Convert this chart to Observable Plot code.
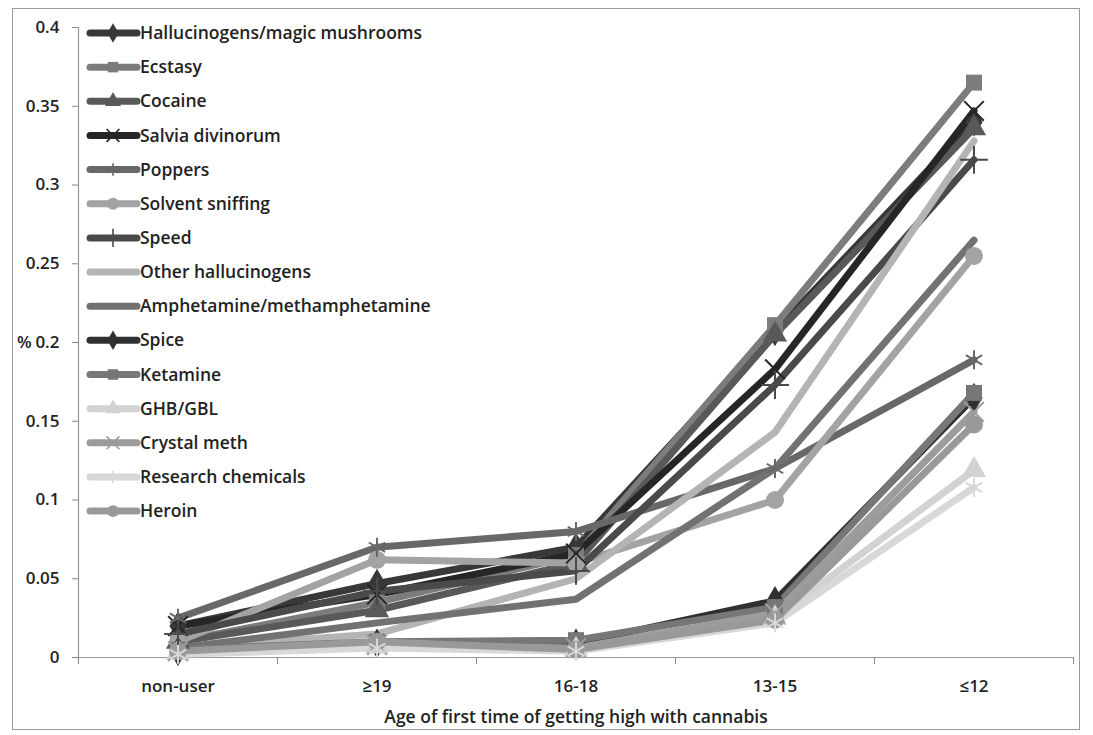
<!DOCTYPE html>
<html><head><meta charset="utf-8">
<script src="https://cdn.jsdelivr.net/npm/d3@7"></script>
<script src="https://cdn.jsdelivr.net/npm/@observablehq/plot@0.6"></script>
<style>
body{margin:0;background:#fff;font-family:"Open Sans",sans-serif}
#wrap{position:relative;width:1093px;height:735px;overflow:hidden}
#frame{position:absolute;left:12px;top:8px;width:1068px;height:722px;border:1px solid #9a9a9a;box-sizing:border-box;pointer-events:none}
#pct{position:absolute;left:17px;top:330px;font-size:17px;color:#222;font-weight:600}
#legend{position:absolute;left:0;top:0}
</style>
</head><body>
<div id="wrap"><div id="frame"></div><div id="pct">%</div></div>
<script>
const ages = ["non-user", "≥19", "16-18", "13-15", "≤12"];
const yTicks = [0, 0.05, 0.1, 0.15, 0.2, 0.25, 0.3, 0.35, 0.4];

const seriesNames = ["Hallucinogens/magic mushrooms", "Ecstasy", "Cocaine", "Salvia divinorum", "Poppers",
  "Solvent sniffing", "Speed", "Other hallucinogens", "Amphetamine/methamphetamine", "Spice",
  "Ketamine", "GHB/GBL", "Crystal meth", "Research chemicals", "Heroin"];
const seriesColors = ["#383838", "#7c7c7c", "#595959", "#262626", "#686868",
  "#a3a3a3", "#4a4a4a", "#b4b4b4", "#727272", "#303030",
  "#777777", "#d2d2d2", "#9c9c9c", "#d8d8d8", "#999999"];
const seriesMarkers = ["diamond", "square", "triangle", "times", "asterisk",
  "circle", "plus", "none", "none", "diamond",
  "square", "triangle", "times", "asterisk", "circle"];

const hallucinogens = [0.020, 0.047, 0.070, 0.207, 0.340];
const ecstasy       = [0.010, 0.035, 0.065, 0.211, 0.365];
const cocaine       = [0.010, 0.030, 0.060, 0.205, 0.336];
const salvia        = [0.020, 0.040, 0.066, 0.183, 0.347];
const poppers       = [0.025, 0.070, 0.080, 0.120, 0.189];
const solvent       = [0.010, 0.062, 0.060, 0.100, 0.255];
const speed         = [0.015, 0.042, 0.055, 0.173, 0.316];
const otherHalluc   = [0.006, 0.015, 0.050, 0.143, 0.328];
const amphetamine   = [0.006, 0.022, 0.037, 0.120, 0.265];
const spice         = [0.004, 0.009, 0.009, 0.036, 0.165];
const ketamine      = [0.005, 0.010, 0.011, 0.032, 0.168];
const ghb           = [0.003, 0.007, 0.005, 0.025, 0.119];
const crystalMeth   = [0.004, 0.008, 0.006, 0.028, 0.156];
const research      = [0.002, 0.006, 0.004, 0.022, 0.108];
const heroin        = [0.004, 0.010, 0.005, 0.024, 0.148];

const allValues = [hallucinogens, ecstasy, cocaine, salvia, poppers, solvent, speed, otherHalluc,
  amphetamine, spice, ketamine, ghb, crystalMeth, research, heroin];

const rows = [];
seriesNames.forEach((s, i) => allValues[i].forEach((v, j) =>
  rows.push({series: s, age: ages[j], value: v, marker: seriesMarkers[i]})));

const filledSyms = new Set(["diamond", "square", "triangle", "circle"]);
const strokeSyms = new Set(["times", "asterisk", "plus"]);
const colorOf = Object.fromEntries(seriesNames.map((s, i) => [s, seriesColors[i]]));

const chart = Plot.plot({
  width: 1093, height: 735,
  marginLeft: 78, marginRight: 20, marginTop: 27, marginBottom: 78,
  style: {fontFamily: "Open Sans, sans-serif", fontSize: "17px", color: "#222", background: "transparent"},
  x: {type: "band", domain: ages, padding: 0},
  y: {domain: [0, 0.4]},
  color: {domain: seriesNames, range: seriesColors},
  marks: [
    Plot.axisY({ticks: yTicks, tickSize: 6, tickPadding: 13, tickFormat: d => String(+d.toFixed(2)), label: null, stroke: "#888", fontWeight: 600}),
    Plot.axisX({tickSize: 0, tickPadding: 22, label: null, fontWeight: 600}),
    Plot.ruleX(ages, {x: d => d, y1: 0, y2: 0, insetBottom: -7, dx: -99.5, stroke: "#888"}),
    Plot.ruleX([ages[ages.length - 1]], {x: d => d, y1: 0, y2: 0, insetBottom: -7, dx: 99.5, stroke: "#888"}),
    Plot.ruleX([0], {x: () => ages[0], y1: 0, y2: 0.4, dx: -99.5, stroke: "#999", strokeWidth: 1.2}),
    Plot.ruleY([0], {stroke: "#999", strokeWidth: 1.2}),
    Plot.line(rows, {x: "age", y: "value", z: "series", stroke: "series", strokeWidth: 7, strokeLinejoin: "round"}),
    Plot.dot(rows.filter(d => filledSyms.has(d.marker)), {x: "age", y: "value", symbol: d => d.marker, fill: d => colorOf[d.series], r: 9}),
    Plot.dot(rows.filter(d => strokeSyms.has(d.marker)), {x: "age", y: "value", symbol: d => d.marker, stroke: d => colorOf[d.series], fill: "none", strokeWidth: 2, r: 9}),
    Plot.text(["Age of first time of getting high with cannabis"], {frameAnchor: "bottom", dy: 65, text: d => d, fontWeight: 600, fontSize: 17.5, fill: "#222"})
  ],
  symbol: {type: "identity"}
});
document.getElementById("wrap").appendChild(chart);

// legend
const lg = d3.select("#wrap").append("svg").attr("id", "legend").attr("width", 1093).attr("height", 735);
seriesNames.forEach((s, i) => {
  const y = 33 + i * 34.15;
  const g = lg.append("g").attr("transform", `translate(0,${y})`);
  g.append("line").attr("x1", 90).attr("x2", 137).attr("y1", 0).attr("y2", 0)
    .attr("stroke", seriesColors[i]).attr("stroke-width", 7).attr("stroke-linecap", "round");
  const m = seriesMarkers[i];
  if (m !== "none") {
    const symMap = {diamond: d3.symbolDiamond, square: d3.symbolSquare, triangle: d3.symbolTriangle, circle: d3.symbolCircle,
      times: d3.symbolTimes, asterisk: d3.symbolAsterisk, plus: d3.symbolPlus};
    const p = g.append("path").attr("transform", "translate(113,0)").attr("d", d3.symbol(symMap[m], 110)());
    if (filledSyms.has(m)) p.attr("fill", seriesColors[i]);
    else p.attr("fill", "none").attr("stroke", seriesColors[i]).attr("stroke-width", 1.6);
  }
  g.append("text").attr("x", 140).attr("y", 0).attr("dy", "0.35em").attr("font-size", 17.5).attr("font-weight", 600)
    .attr("font-family", "Open Sans, sans-serif").attr("fill", "#222").text(s);
});
</script>
</body></html>
